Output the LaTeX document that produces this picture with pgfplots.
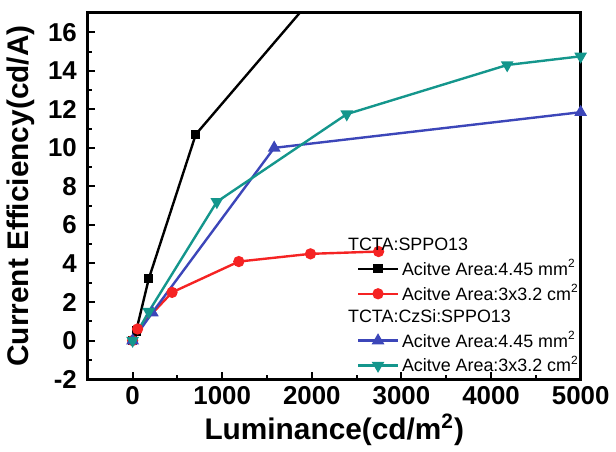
\documentclass[border=0pt]{standalone}
\usepackage{pgfplots}
\pgfplotsset{compat=1.18}
\usepackage{fontspec}
\setmainfont{Liberation Sans}
\definecolor{cred}{RGB}{245,35,35}
\definecolor{cblue}{RGB}{60,70,185}
\definecolor{cteal}{RGB}{20,150,140}
\begin{document}
\begin{tikzpicture}
\begin{axis}[
  scale only axis,
  width=247bp, height=183.5bp,
  xmin=-500, xmax=5000, ymin=-2, ymax=17,
  xtick={0,1000,...,5000}, ytick={-2,0,...,16},
  minor x tick num=1, minor y tick num=1,
  xtick pos=bottom, ytick pos=left,
  tick align=inside,
  major tick length=3.5bp, minor tick length=2bp,
  every tick/.style={line width=1bp, black},
  axis line style={line width=1.5bp},
  /pgf/number format/1000 sep={},
  /pgf/number format/assume math mode=true,
  ticklabel style={font=\bfseries\fontsize{13}{15}\selectfont},
  yticklabel style={xshift=-2bp},
  xlabel={Luminance(cd/m\textsuperscript{2})},
  ylabel={Current Efficiency(cd/A)},
  label style={font=\bfseries\fontsize{15}{17}\selectfont},
  xlabel style={yshift=2bp},
  ylabel style={yshift=0bp},
  legend style={draw=none, fill=none, at={(axis cs:2500,5.5)}, anchor=north west,
    font=\fontsize{9}{10}\selectfont, row sep=0bp, inner sep=0pt,
    nodes={inner sep=1.5bp}},
  legend cell align=left,
  legend image code/.code={\draw[mark repeat=2,mark phase=2] plot coordinates {(0cm,0cm) (0.35cm,0cm) (0.7cm,0cm)};},
  every axis plot/.append style={line width=1.2bp, mark options={solid}},
]
\addlegendimage{empty legend}
\addlegendentry{\hspace{-27bp}TCTA:SPPO13}
\addplot[black, mark=square*, mark size=1.7bp] coordinates {
(0,0) (40,0.5) (180,3.2) (705,10.7) (2600,21.0)};
\addlegendentry{Acitve Area:4.45 mm\textsuperscript{2}}
\addplot[cred, mark=*, mark size=2.2bp] coordinates {
(0,0) (55,0.6) (440,2.5) (1185,4.1) (1985,4.5) (2745,4.62)};
\addlegendentry{Acitve Area:3x3.2 cm\textsuperscript{2}}
\addlegendimage{empty legend}
\addlegendentry{\hspace{-27bp}TCTA:CzSi:SPPO13}
\addplot[cblue, mark=triangle*, mark size=2.5bp] coordinates {
(0,0) (220,1.45) (1580,10.0) (5000,11.85)};
\addlegendentry{Acitve Area:4.45 mm\textsuperscript{2}}
\addplot[cteal, mark=triangle*, mark size=2.5bp, mark options={rotate=180}] coordinates {
(0,0) (180,1.5) (940,7.2) (2390,11.75) (4180,14.3) (5000,14.75)};
\addlegendentry{Acitve Area:3x3.2 cm\textsuperscript{2}}
\end{axis}
\path (current axis.north) ++(0,6.5bp);
\end{tikzpicture}
\end{document}
